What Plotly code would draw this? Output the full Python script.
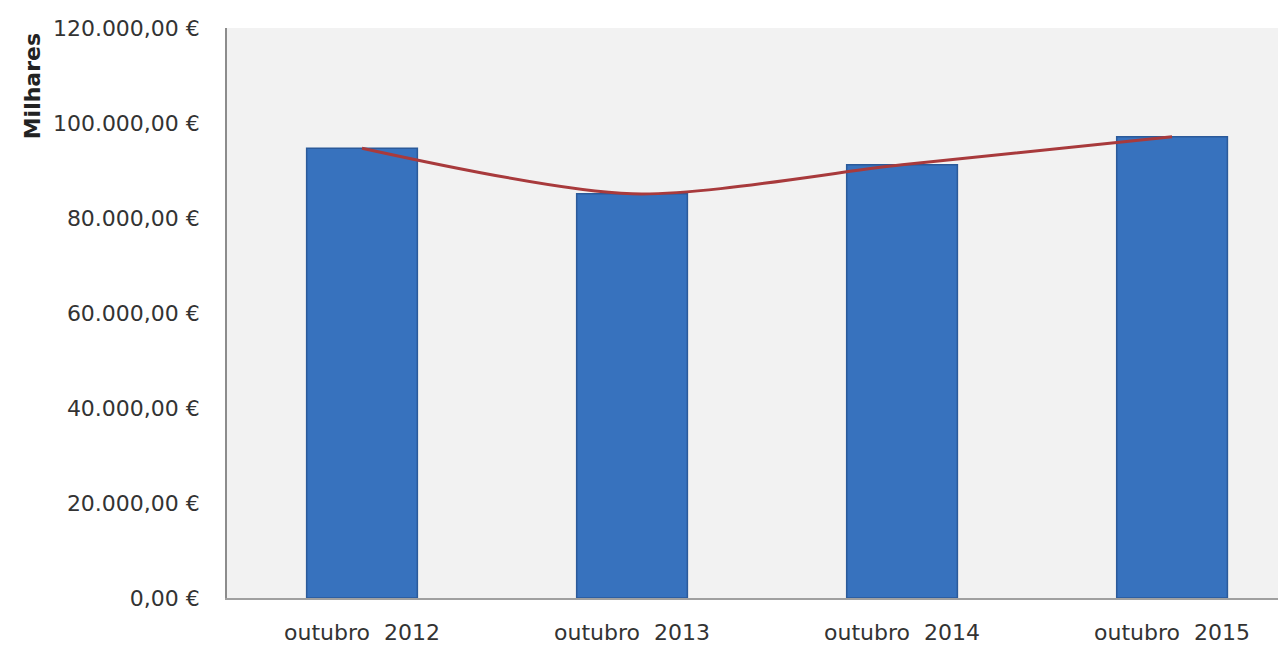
import plotly.graph_objects as go

categories = ["outubro\u00a0\u00a02012", "outubro\u00a0\u00a02013", "outubro\u00a0\u00a02014", "outubro\u00a0\u00a02015"]
values = [94700, 85100, 91200, 97100]
trend_values = [94700, 85100, 91200, 97100]
y_tick_vals = [0, 20000, 40000, 60000, 80000, 100000, 120000]
y_tick_text = ["0,00 €", "20.000,00 €", "40.000,00 €", "60.000,00 €", "80.000,00 €", "100.000,00 €", "120.000,00 €"]

fig = go.Figure()
fig.add_trace(go.Bar(
    x=categories, y=values,
    marker=dict(color="#3772be", line=dict(color="#2b5a9a", width=1.5)),
    width=0.41, showlegend=False,
))
fig.add_trace(go.Scatter(
    x=categories, y=trend_values, mode="lines",
    line=dict(color="#a83a3c", width=3, shape="spline", smoothing=0.8),
    showlegend=False,
))

fig.update_layout(
    width=1278, height=642,
    margin=dict(l=219, r=0, t=20, b=52),
    paper_bgcolor="white", plot_bgcolor="#f2f2f2",
    font=dict(family="DejaVu Sans, sans-serif", color="#333333"),
    xaxis=dict(
        range=[-0.5, 3.422], showgrid=False, zeroline=False,
        showline=True, linecolor="#a0a0a0", linewidth=2,
        tickfont=dict(size=22, color="#333333"),
        ticks="outside", ticklen=14, tickcolor="rgba(0,0,0,0)",
    ),
    yaxis=dict(
        range=[0, 120000], showgrid=False, zeroline=False,
        showline=True, linecolor="#8c8c8c", linewidth=1.5,
        tickvals=y_tick_vals, ticktext=y_tick_text,
        tickfont=dict(size=22, color="#333333"),
        ticks="outside", ticklen=21, tickcolor="rgba(0,0,0,0)",
    ),
    annotations=[dict(
        text="<b>Milhares</b>", xref="paper", yref="paper",
        x=-0.184, y=0.898, xanchor="center", yanchor="middle",
        textangle=-90, showarrow=False,
        font=dict(size=22, color="#222222"),
    )],
)

fig.write_html("out.html")
